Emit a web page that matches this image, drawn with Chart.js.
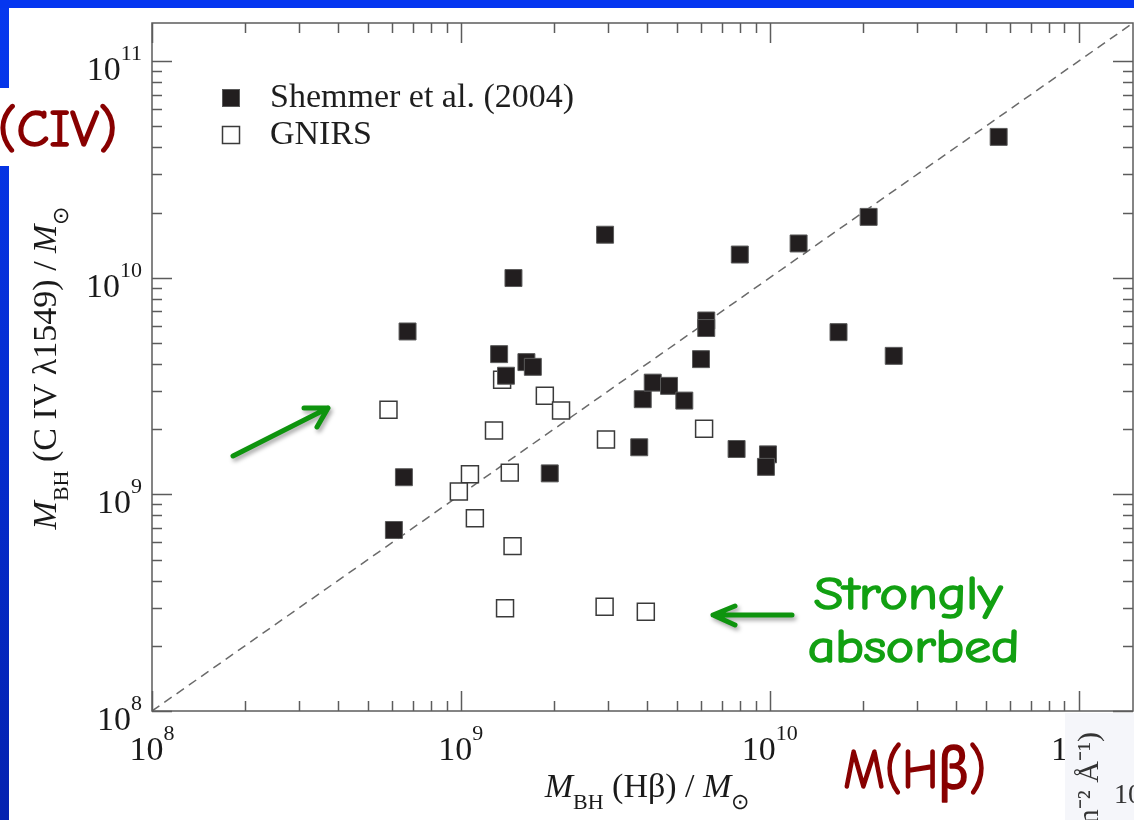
<!DOCTYPE html>
<html>
<head>
<meta charset="utf-8">
<script src="https://cdn.jsdelivr.net/npm/chart.js@4.4.1/dist/chart.umd.min.js"></script>
<style>
  html, body { margin: 0; padding: 0; background: #ffffff; }
  canvas { display: block; }
</style>
</head>
<body>
<canvas id="massChart" width="1134" height="820"></canvas>
<script>
// Black-hole masses in solar masses: x = from H-beta, y = from C IV 1549
const shemmerHbeta = [6.07e8, 6.54e8, 6.72e8, 1.33e9, 1.40e9, 1.63e9, 1.71e9, 1.48e9, 1.94e9,
  2.93e9, 8.00e9, 1.24e10, 2.09e10, 5.51e10, 6.23e9, 6.23e9, 1.67e10, 2.52e10, 5.99e9,
  3.88e9, 4.18e9, 4.72e9, 5.29e9, 3.78e9, 7.81e9, 9.87e9, 9.72e9];
const shemmerCIV = [6.85e8, 1.20e9, 5.65e9, 4.44e9, 3.53e9, 4.08e9, 3.88e9, 9.97e9, 1.25e9,
  1.58e10, 1.28e10, 1.44e10, 1.91e10, 4.47e10, 6.35e9, 5.86e9, 5.61e9, 4.36e9, 4.21e9,
  2.75e9, 3.28e9, 3.17e9, 2.71e9, 1.65e9, 1.62e9, 1.53e9, 1.34e9];
const gnirsHbeta = [5.83e8, 1.36e9, 1.87e9, 2.11e9, 1.28e9, 2.95e9, 1.07e9, 1.44e9, 9.85e8,
  1.11e9, 1.47e9, 1.39e9, 2.92e9, 6.13e9, 3.97e9];
const gnirsCIV = [2.46e9, 3.38e9, 2.85e9, 2.44e9, 1.97e9, 1.79e9, 1.24e9, 1.26e9, 1.03e9,
  7.76e8, 5.77e8, 2.98e8, 3.03e8, 2.01e9, 2.87e8];

// Axis range and decade tick labels (10^n)
const axisMin = 1e8;
const axisMax = 1.5e11;
const decadeExponents = [8, 9, 10, 11];
const seriesNames = ['Shemmer et al. (2004)', 'GNIRS'];

const toPoints = (xs, ys) => xs.map((x, i) => ({ x: x, y: ys[i] }));

const SERIF = '"Liberation Serif", "Times New Roman", serif';
const HAND = '"Comic Sans MS", "Comic Neue", "Noto Sans", sans-serif';

function drawRuns(ctx, parts, cx, baseline) {
  let total = 0;
  parts.forEach(p => { ctx.font = p.font; p.w = ctx.measureText(p.t).width; total += p.w; });
  let x = cx - total / 2;
  ctx.textAlign = 'left';
  ctx.textBaseline = 'alphabetic';
  parts.forEach(p => { ctx.font = p.font; ctx.fillText(p.t, x, baseline + (p.dy || 0)); x += p.w; });
}

function drawPower(ctx, exp, x, baseline, align) {
  const baseFont = '34px ' + SERIF, supFont = '22px ' + SERIF;
  ctx.font = baseFont; const wb = ctx.measureText('10').width;
  ctx.font = supFont; const ws = ctx.measureText(String(exp)).width;
  const total = wb + ws;
  let start = align === 'right' ? x - total : x - total / 2;
  ctx.textAlign = 'left';
  ctx.textBaseline = 'alphabetic';
  ctx.font = baseFont; ctx.fillText('10', start, baseline);
  ctx.font = supFont; ctx.fillText(String(exp), start + wb, baseline - 20);
}

// Hand-lettered note: height set by cap height, stretched to the given ink width
function drawNote(ctx, text, left, right, baseline, capHeight, color) {
  ctx.save();
  ctx.font = '100px ' + HAND;
  const capRatio = ctx.measureText('H').actualBoundingBoxAscent / 100;
  const size = capHeight / capRatio;
  ctx.font = size + 'px ' + HAND;
  const m = ctx.measureText(text);
  const ink = m.actualBoundingBoxLeft + m.actualBoundingBoxRight;
  const sx = (right - left) / ink;
  ctx.fillStyle = color;
  ctx.strokeStyle = color;
  ctx.lineWidth = 1.6;
  ctx.lineJoin = 'round';
  ctx.textAlign = 'left';
  ctx.textBaseline = 'alphabetic';
  ctx.translate(left, baseline);
  ctx.scale(sx, 1);
  ctx.fillText(text, m.actualBoundingBoxLeft, 0);
  ctx.strokeText(text, m.actualBoundingBoxLeft, 0);
  ctx.restore();
}

function drawArrow(ctx, tail, tip, wingA, wingB) {
  ctx.save();
  ctx.strokeStyle = '#0e940e';
  ctx.lineWidth = 5;
  ctx.lineCap = 'round';
  ctx.lineJoin = 'round';
  ctx.shadowColor = 'rgba(0,0,0,0.35)';
  ctx.shadowBlur = 4;
  ctx.shadowOffsetX = 2;
  ctx.shadowOffsetY = 3;
  ctx.beginPath();
  ctx.moveTo(tail[0], tail[1]);
  ctx.lineTo(tip[0], tip[1]);
  ctx.moveTo(wingA[0], wingA[1]);
  ctx.lineTo(tip[0], tip[1]);
  ctx.lineTo(wingB[0], wingB[1]);
  ctx.stroke();
  ctx.restore();
}

const slidePlugin = {
  id: 'slidePlugin',
  beforeDraw(chart) {
    const ctx = chart.ctx;
    ctx.save();
    ctx.fillStyle = '#ffffff';
    ctx.fillRect(0, 0, chart.width, chart.height);
    ctx.restore();
  },
  afterDraw(chart) {
    const ctx = chart.ctx;
    const a = chart.chartArea;
    const xs = chart.scales.x, ys = chart.scales.y;
    ctx.save();

    // frame
    ctx.strokeStyle = '#5c5c5c';
    ctx.lineWidth = 1.5;
    ctx.strokeRect(a.left, a.top, a.right - a.left, a.bottom - a.top);

    // inward log ticks on all four sides
    ctx.beginPath();
    decadeExponents.forEach(e => {
      for (let m = 1; m <= 9; m++) {
        const v = m * Math.pow(10, e);
        if (v < axisMin || v > axisMax) continue;
        const len = m === 1 ? 20 : 10;
        const px = Math.round(xs.getPixelForValue(v)) + 0.5;
        const py = Math.round(ys.getPixelForValue(v)) + 0.5;
        ctx.moveTo(px, a.bottom); ctx.lineTo(px, a.bottom - len);
        ctx.moveTo(px, a.top); ctx.lineTo(px, a.top + len);
        ctx.moveTo(a.left, py); ctx.lineTo(a.left + len, py);
        ctx.moveTo(a.right, py); ctx.lineTo(a.right - len, py);
      }
    });
    ctx.stroke();

    // tick labels
    ctx.fillStyle = '#1a1a1a';
    decadeExponents.forEach(e => {
      const v = Math.pow(10, e);
      drawPower(ctx, e, xs.getPixelForValue(v), a.bottom + 49, 'center');
      drawPower(ctx, e, a.left - 10, ys.getPixelForValue(v) + 19, 'right');
    });

    // axis titles
    const it = 'italic 34px ' + SERIF, rm = '34px ' + SERIF, sb = '22px ' + SERIF;
    drawRuns(ctx, [
      { t: 'M', font: it }, { t: 'BH', font: sb, dy: 12 },
      { t: ' (H\u03B2) / ', font: rm }, { t: 'M', font: it }, { t: '\u2299', font: sb, dy: 12 }
    ], 647, a.bottom + 86);
    ctx.save();
    ctx.translate(56, 368);
    ctx.rotate(-Math.PI / 2);
    drawRuns(ctx, [
      { t: 'M', font: it }, { t: 'BH', font: sb, dy: 12 },
      { t: ' (C IV \u03BB1549) / ', font: rm }, { t: 'M', font: it }, { t: '\u2299', font: sb, dy: 12 }
    ], 0, 0);
    ctx.restore();

    // legend
    const ds = chart.data.datasets;
    [0, 1].forEach(i => {
      const cy = 98 + i * 37;
      ctx.fillStyle = ds[i].backgroundColor;
      ctx.strokeStyle = ds[i].borderColor;
      ctx.lineWidth = ds[i].borderWidth;
      ctx.fillRect(222.5, cy - 8.5, 17, 17);
      ctx.strokeRect(222.5, cy - 8.5, 17, 17);
      ctx.fillStyle = '#1e1e1e';
      ctx.font = rm;
      ctx.textAlign = 'left';
      ctx.textBaseline = 'alphabetic';
      ctx.fillText(ds[i].label, 270, cy + 9);
    });

    // neighbouring panel peeking in at the lower right
    ctx.fillStyle = '#f5f6fa';
    ctx.fillRect(1065, 713, 69, 107);
    ctx.save();
    ctx.beginPath(); ctx.rect(1065, 713, 69, 107); ctx.clip();
    ctx.fillStyle = '#333333';
    ctx.font = '30px ' + SERIF;
    ctx.save();
    ctx.translate(1098, 732);
    ctx.rotate(-Math.PI / 2);
    ctx.textAlign = 'right';
    ctx.fillText('cm\u207B\u00B2 \u00C5\u207B\u00B9)', 0, 0);
    ctx.restore();
    ctx.textAlign = 'left';
    ctx.font = '28px ' + SERIF;
    ctx.fillText('10', 1114, 803);
    ctx.restore();

    // slide notes and arrows
    drawArrow(ctx, [233, 456], [328, 408], [304, 408], [317, 427]);
    drawArrow(ctx, [792, 615], [713, 615], [735, 606], [735, 625]);
    drawNote(ctx, 'Strongly', 815, 1003, 609, 31, '#12a012');
    drawNote(ctx, 'absorbed', 810, 1017, 662, 31, '#12a012');
    drawNote(ctx, 'M(H\u03B2)', 845, 983, 788, 38, '#880000');

    // blue slide border
    ctx.fillStyle = '#0536f0';
    ctx.fillRect(0, 0, chart.width, 8);
    const g = ctx.createLinearGradient(0, 8, 0, chart.height);
    g.addColorStop(0, '#0638ef');
    g.addColorStop(1, '#0422b0');
    ctx.fillStyle = g;
    ctx.fillRect(0, 8, 9, chart.height - 8);
    ctx.fillStyle = '#ffffff';
    ctx.fillRect(0, 88, 12, 78);
    drawNote(ctx, '(CIV)', 1, 115, 146, 36, '#880000');

    ctx.restore();
  }
};

new Chart(document.getElementById('massChart'), {
  type: 'scatter',
  data: {
    datasets: [
      {
        label: seriesNames[0],
        data: toPoints(shemmerHbeta, shemmerCIV),
        pointStyle: 'rect',
        pointRadius: 12,
        pointHoverRadius: 12,
        backgroundColor: '#221e1f',
        borderColor: '#5a5a5a',
        borderWidth: 1,
        order: 1
      },
      {
        label: seriesNames[1],
        data: toPoints(gnirsHbeta, gnirsCIV),
        pointStyle: 'rect',
        pointRadius: 12,
        pointHoverRadius: 12,
        backgroundColor: '#ffffff',
        borderColor: '#3a3a3a',
        borderWidth: 1.5,
        order: 2
      },
      {
        label: 'one-to-one',
        data: [{ x: axisMin, y: axisMin }, { x: axisMax, y: axisMax }],
        showLine: true,
        pointRadius: 0,
        borderColor: '#6a6a6a',
        borderWidth: 1.5,
        borderDash: [9, 6],
        order: 3
      }
    ]
  },
  options: {
    responsive: false,
    animation: false,
    events: [],
    layout: { autoPadding: false, padding: { left: 152, right: 1, top: 23, bottom: 109 } },
    scales: {
      x: { type: 'logarithmic', min: axisMin, max: axisMax, display: false },
      y: { type: 'logarithmic', min: axisMin, max: axisMax, display: false }
    },
    plugins: { legend: { display: false }, tooltip: { enabled: false } }
  },
  plugins: [slidePlugin]
});
</script>
</body>
</html>
